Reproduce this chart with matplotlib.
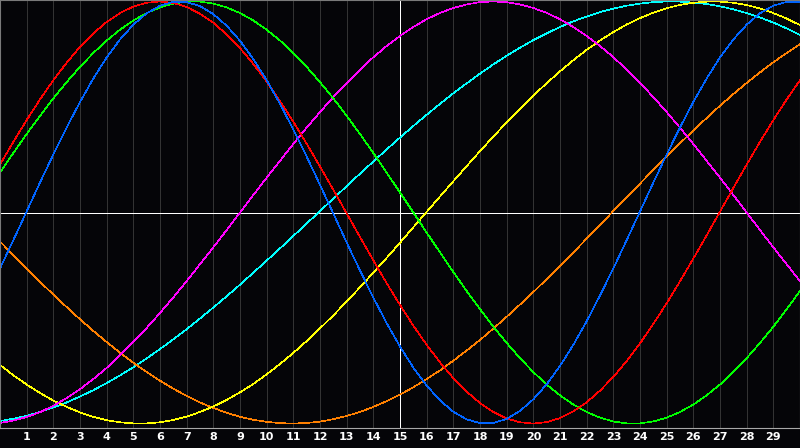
import numpy as np
import matplotlib
matplotlib.use("Agg")
import matplotlib.pyplot as plt

# sample positions (days) and cycle values in percent
days = np.arange(0, 30.5, 0.5)
day_labels = [str(d) for d in range(1, 30)]

physical = [-26.5, -13.1, 0.5, 14.2, 27.5, 40.3, 52.4, 63.5, 73.5, 82.0, 89.0, 94.4, 98.0, 99.8, 99.7, 97.8,
            94.0, 88.5, 81.4, 72.7, 62.7, 51.5, 39.3, 26.5, 13.1, -0.5, -14.2, -27.5, -40.3, -52.4, -63.5,
            -73.5, -82.0, -89.0, -94.4, -98.0, -99.8, -99.7, -97.8, -94.0, -88.5, -81.4, -72.7, -62.7, -51.5,
            -39.3, -26.5, -13.1, 0.5, 14.2, 27.5, 40.3, 52.4, 63.5, 73.5, 82.0, 89.0, 94.4, 98.0, 99.8, 99.7]
emotional = [22.7, 33.5, 43.8, 53.6, 62.7, 71.0, 78.5, 84.9, 90.3, 94.5, 97.6, 99.4, 100.0, 99.3, 97.4, 94.2,
             89.9, 84.4, 77.9, 70.4, 62.0, 52.8, 43.0, 32.6, 21.8, 10.8, -0.4, -11.6, -22.7, -33.5, -43.8,
             -53.6, -62.7, -71.0, -78.5, -84.9, -90.3, -94.5, -97.6, -99.4, -100.0, -99.3, -97.4, -94.2, -89.9,
             -84.4, -77.9, -70.4, -62.0, -52.8, -43.0, -32.6, -21.8, -10.8, 0.4, 11.6, 22.7, 33.5, 43.8, 53.6, 62.7]
intellectual = [18.9, 28.2, 37.2, 45.8, 54.1, 61.8, 69.0, 75.6, 81.5, 86.6, 91.0, 94.5, 97.2, 99.0, 99.9, 99.9,
                99.0, 97.2, 94.5, 91.0, 86.6, 81.5, 75.6, 69.0, 61.8, 54.1, 45.8, 37.2, 28.2, 18.9, 9.5, 0.0,
                -9.5, -18.9, -28.2, -37.2, -45.8, -54.1, -61.8, -69.0, -75.6, -81.5, -86.6, -91.0, -94.5, -97.2,
                -99.0, -99.9, -99.9, -99.0, -97.2, -94.5, -91.0, -86.6, -81.5, -75.6, -69.0, -61.8, -54.1, -45.8, -37.2]
intuitive = [-99.7, -98.6, -96.9, -94.6, -91.6, -87.9, -83.7, -78.9, -73.6, -67.7, -61.4, -54.7, -47.6, -40.2,
             -32.5, -24.5, -16.5, -8.3, 0.0, 8.3, 16.5, 24.5, 32.5, 40.2, 47.6, 54.7, 61.4, 67.7, 73.6, 78.9,
             83.7, 87.9, 91.6, 94.6, 96.9, 98.6, 99.7, 100.0, 99.7, 98.6, 96.9, 94.6, 91.6, 87.9, 83.7, 78.9,
             73.6, 67.7, 61.4, 54.7, 47.6, 40.2, 32.5, 24.5, 16.5, 8.3, 0.0, -8.3, -16.5, -24.5, -32.5]
aesthetic = [-72.2, -77.1, -81.5, -85.5, -89.1, -92.1, -94.7, -96.8, -98.4, -99.4, -99.9, -99.9, -99.4, -98.3,
             -96.7, -94.5, -91.9, -88.8, -85.2, -81.2, -76.7, -71.8, -66.5, -60.9, -54.9, -48.7, -42.2, -35.4,
             -28.5, -21.5, -14.3, -7.0, 0.3, 7.6, 14.8, 22.0, 29.1, 36.0, 42.7, 49.2, 55.4, 61.3, 66.9, 72.2,
             77.1, 81.5, 85.5, 89.1, 92.1, 94.7, 96.8, 98.4, 99.4, 99.9, 99.9, 99.4, 98.3, 96.7, 94.5, 91.9, 88.8]
awareness = [-13.7, -20.2, -26.5, -32.8, -38.9, -44.8, -50.6, -56.1, -61.4, -66.4, -71.2, -75.6, -79.7, -83.5,
             -86.9, -90.0, -92.6, -94.9, -96.8, -98.2, -99.2, -99.8, -100.0, -99.7, -99.1, -97.9, -96.4, -94.5,
             -92.1, -89.4, -86.3, -82.8, -78.9, -74.8, -70.2, -65.4, -60.4, -55.0, -49.4, -43.6, -37.7, -31.5,
             -25.2, -18.9, -12.4, -5.9, 0.7, 7.2, 13.7, 20.2, 26.5, 32.8, 38.9, 44.8, 50.6, 56.1, 61.4, 66.4,
             71.2, 75.6, 79.7]
spiritual = [-98.8, -97.7, -96.3, -94.5, -92.4, -90.0, -87.2, -84.2, -80.8, -77.2, -73.3, -69.1, -64.7, -60.1,
             -55.3, -50.2, -45.0, -39.7, -34.2, -28.5, -22.8, -17.0, -11.1, -5.2, 0.7, 6.6, 12.5, 18.4, 24.2,
             29.9, 35.5, 41.0, 46.3, 51.5, 56.5, 61.2, 65.8, 70.2, 74.3, 78.1, 81.7, 84.9, 87.9, 90.6, 92.9,
             95.0, 96.6, 98.0, 99.0, 99.7, 100.0, 99.9, 99.5, 98.8, 97.7, 96.3, 94.5, 92.4, 90.0, 87.2, 84.2]

series = [
    (spiritual, '#00ffff'),
    (awareness, '#ff8000'),
    (aesthetic, '#ffff00'),
    (intuitive, '#ff00ff'),
    (intellectual, '#00ff00'),
    (emotional, '#ff0000'),
    (physical, '#0064ff'),
]

bg = '#050508'
fig = plt.figure(figsize=(8, 4.48), dpi=100, facecolor=bg)
ax = fig.add_axes([0, 20 / 448, 1, 428 / 448])
ax.set_facecolor(bg)

# day grid
for d in range(1, 30):
    if d == 15:
        ax.axvline(d, color='white', lw=0.6, antialiased=False, zorder=1)
    else:
        ax.axvline(d, color='#333333', lw=0.6, antialiased=False, zorder=1)
ax.axhline(0, color='white', lw=0.6, antialiased=False, zorder=1)

for vals, col in series:
    ax.plot(days, vals, color=col, lw=0.45, antialiased=False, zorder=2)

ax.set_xlim(0, 30)
ax.set_ylim(-102.1, 100.7)
ax.set_yticks([])
ax.set_xticks(range(1, 30))
ax.set_xticklabels(day_labels, color='white', fontsize=8, fontweight='bold')
ax.tick_params(axis='x', length=0, pad=3)
for side in ['left', 'right', 'top']:
    ax.spines[side].set_color('#7a7a7a')
ax.spines['bottom'].set_color('#a8a8a8')
for s in ax.spines.values():
    s.set_linewidth(0.8)

fig.savefig('out.png', dpi=100, facecolor=bg)
